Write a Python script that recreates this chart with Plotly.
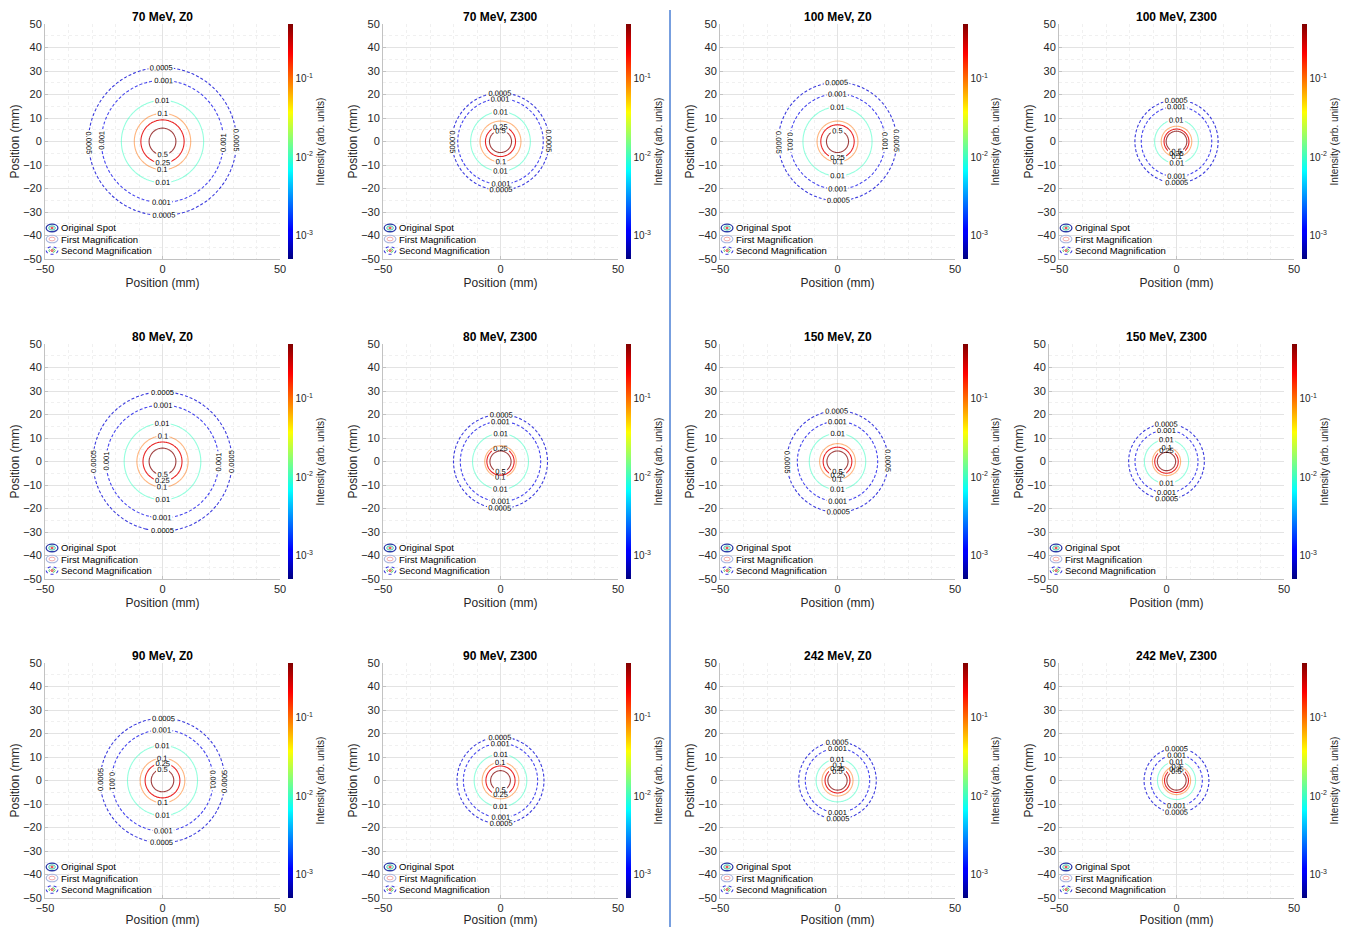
import numpy as np
import plotly.graph_objects as go

# ---------------- data ----------------
panel_titles = ["70 MeV, Z0", "70 MeV, Z300", "100 MeV, Z0", "100 MeV, Z300",
                "80 MeV, Z0", "80 MeV, Z300", "150 MeV, Z0", "150 MeV, Z300",
                "90 MeV, Z0", "90 MeV, Z300", "242 MeV, Z0", "242 MeV, Z300"]

# contour levels (arb. units), innermost first
levels = [0.5, 0.25, 0.1, 0.01, 0.001, 0.0005]

# radius (mm) of each contour level, same order as `levels`
radii_70_z0 = [5.7, 9.2, 12.0, 17.5, 26.0, 31.5]
radii_70_z300 = [4.7, 6.4, 8.7, 12.7, 18.2, 20.7]
radii_100_z0 = [4.7, 7.1, 8.7, 14.7, 20.3, 25.2]
radii_100_z300 = [4.4, 5.3, 6.5, 9.3, 15.0, 17.7]
radii_80_z0 = [5.7, 8.3, 10.9, 16.3, 24.0, 29.6]
radii_80_z300 = [4.5, 5.8, 6.7, 11.9, 17.1, 20.0]
radii_150_z0 = [4.5, 6.1, 7.6, 12.0, 17.1, 21.6]
radii_150_z300 = [3.9, 5.0, 6.0, 9.4, 13.4, 16.1]
radii_90_z0 = [4.8, 7.4, 9.5, 14.9, 21.6, 26.5]
radii_90_z300 = [4.2, 6.2, 7.8, 11.2, 15.8, 18.5]
radii_242_z0 = [4.1, 5.3, 6.6, 9.1, 13.7, 16.5]
radii_242_z300 = [4.1, 5.1, 6.0, 8.1, 11.0, 13.8]

panel_radii = [radii_70_z0, radii_70_z300, radii_100_z0, radii_100_z300,
               radii_80_z0, radii_80_z300, radii_150_z0, radii_150_z300,
               radii_90_z0, radii_90_z300, radii_242_z0, radii_242_z300]

legend_names = ["Original Spot", "First Magnification", "Second Magnification"]
cbar_tick_values = [1e-3, 1e-2, 1e-1]
cbar_tick_text = ["10<sup>-3</sup>", "10<sup>-2</sup>", "10<sup>-1</sup>"]
cbar_limits = [0.0005, 0.5]
axis_ticks_x = [-50, 0, 50]

# ---------------- styles ----------------
FONT = "Liberation Sans, Arial, Helvetica, sans-serif"
level_colors = ["rgba(128,0,0,0.75)", "rgba(230,0,0,0.85)", "rgba(255,110,0,0.5)",
                "rgba(60,255,195,0.55)", "rgba(35,35,235,0.85)", "rgba(25,25,215,0.85)"]
level_dash = ["solid", "solid", "solid", "solid", "3px,2px", "3px,2px"]

JET = [[0.0, "rgb(0,0,128)"], [0.11, "rgb(0,0,255)"], [0.125, "rgb(0,0,255)"],
       [0.375, "rgb(0,255,255)"], [0.625, "rgb(255,255,0)"],
       [0.875, "rgb(255,0,0)"], [1.0, "rgb(128,0,0)"]]

FIG_W, FIG_H = 1348, 927
PW = 235  # plot size px
col_left = [45, 383, 720, 1059]
row_top = [24, 344, 663]
special_left = {7: 1049}
N_LABEL_LEVELS = 120  # helper (empty) levels -> denser contour labels

fig = go.Figure()
layout_extra = {}
annotations = []
shapes = []

for i, (title, radii) in enumerate(zip(panel_titles, panel_radii)):
    k = i + 1
    row, col = divmod(i, 4)
    left = special_left.get(i, col_left[col])
    top = row_top[row]
    xd = [left / FIG_W, (left + PW) / FIG_W]
    yd = [1 - (top + PW) / FIG_H, 1 - top / FIG_H]
    xs = "x" if k == 1 else f"x{k}"
    ys = "y" if k == 1 else f"y{k}"
    xk = "xaxis" if k == 1 else f"xaxis{k}"
    yk = "yaxis" if k == 1 else f"yaxis{k}"

    for j, lev in enumerate(levels):
        r_lev = radii[j]
        ext = r_lev + 5.0
        g = np.linspace(-ext, ext, 71)
        gx, gy = np.meshgrid(g, g)
        rr = np.sqrt(gx ** 2 + gy ** 2)
        # locally linear field whose `lev` iso-line lies at the read radius
        zz = lev * (1.0 + np.clip(r_lev - rr, -3.0, 3.0))
        fig.add_trace(go.Contour(
            x=g, y=g, z=zz,
            xaxis=xs, yaxis=ys,
            autocontour=False,
            contours=dict(start=lev, end=lev + (N_LABEL_LEVELS - 1) * 5 * lev, size=5 * lev,
                          coloring="none", showlabels=True, labelformat=".4~g",
                          labelfont=dict(size=7.5, color="black", family=FONT)),
            line=dict(color=level_colors[j], width=1.1, dash=level_dash[j], smoothing=1.0),
            showscale=False, hoverinfo="skip", showlegend=False,
        ))

    # colorbar carrier (point lies outside the visible range)
    cb_left = left + PW + 8
    fig.add_trace(go.Scatter(
        x=[-1000], y=[-1000], xaxis=xs, yaxis=ys, mode="markers",
        marker=dict(size=1, color=[np.log10(cbar_limits[0])],
                    cmin=np.log10(cbar_limits[0]), cmax=np.log10(cbar_limits[1]),
                    colorscale=JET, showscale=True,
                    colorbar=dict(
                        x=cb_left / FIG_W, xanchor="left", xpad=0,
                        y=(yd[0] + yd[1]) / 2, yanchor="middle", ypad=0,
                        len=PW, lenmode="pixels", thickness=5,
                        outlinewidth=0,
                        tickvals=[np.log10(v) for v in cbar_tick_values],
                        ticktext=cbar_tick_text, ticks="",
                        tickfont=dict(size=10, color="#262626", family=FONT),
                        title=dict(text="Intensity (arb. units)", side="right",
                                   font=dict(size=10, color="#262626", family=FONT)),
                    )),
        hoverinfo="skip", showlegend=False,
    ))

    axis_common = dict(
        range=[-50, 50], showgrid=True, gridcolor="#e3e3e3", gridwidth=0.7,
        zeroline=False, showline=True, linecolor="#c2c2c2", linewidth=1,
        ticks="inside", ticklen=3, tickcolor="#c2c2c2",
        tickfont=dict(size=11, color="#262626", family=FONT),
        automargin=False, fixedrange=True,
    )
    layout_extra[xk] = dict(axis_common, domain=xd, anchor=ys, tickvals=axis_ticks_x,
                            minor=dict(dtick=10, showgrid=True, gridcolor="#f0f0f0",
                                       griddash="dot", gridwidth=0.7, ticks=""),
                            title=dict(text="Position (mm)", standoff=4,
                                       font=dict(size=12, color="#262626", family=FONT)))
    layout_extra[yk] = dict(axis_common, domain=yd, anchor=xs, dtick=10, tick0=0,
                            minor=dict(dtick=5, showgrid=True, gridcolor="#f0f0f0",
                                       griddash="dot", gridwidth=0.7, ticks=""),
                            title=dict(text="Position (mm)", standoff=0,
                                       font=dict(size=12, color="#262626", family=FONT)))

    annotations.append(dict(text=f"<b>{title}</b>", x=0.5, y=1.0, xref=f"{xs} domain",
                            yref=f"{ys} domain", xanchor="center", yanchor="bottom",
                            yshift=-2, showarrow=False,
                            font=dict(size=12, color="black", family=FONT)))

    # in-axes legend
    item_y = [0.132, 0.085, 0.036]
    xr, yr = f"{xs} domain", f"{ys} domain"
    for name, yy in zip(legend_names, item_y):
        annotations.append(dict(text=name, x=0.06, y=yy, xref=xr, yref=yr,
                                xanchor="left", yanchor="middle", showarrow=False,
                                font=dict(size=9.5, color="black", family=FONT)))

    def ell(cx, cy, w, h, color, width=1.0, dash="solid"):
        return dict(type="circle", xref=xr, yref=yr, x0=cx - w / 2, x1=cx + w / 2,
                    y0=cy - h / 2, y1=cy + h / 2, line=dict(color=color, width=width, dash=dash))

    cx = 0.03
    shapes += [ell(cx, item_y[0], 0.05, 0.032, "#2b3aa8", 1.3),
               ell(cx, item_y[0], 0.028, 0.018, "#3cc8a8", 1.0),
               ell(cx, item_y[0], 0.01, 0.007, "#e03030", 1.0)]
    shapes += [ell(cx, item_y[1], 0.05, 0.032, "#aab6e0", 1.1),
               ell(cx, item_y[1], 0.026, 0.016, "#f2a8a8", 1.0)]
    shapes += [ell(cx, item_y[2], 0.05, 0.032, "#3b3bdc", 1.1, "dot"),
               ell(cx, item_y[2], 0.026, 0.016, "#4cc860", 1.0, "dot"),
               ell(cx, item_y[2], 0.01, 0.007, "#e03030", 1.0)]

# vertical separator
shapes.append(dict(type="line", xref="paper", yref="paper", x0=670 / FIG_W, x1=670 / FIG_W,
                   y0=0, y1=1 - 10 / FIG_H, line=dict(color="#4a7fd4", width=1.5)))

fig.update_layout(
    width=FIG_W, height=FIG_H,
    margin=dict(l=0, r=0, t=0, b=0, pad=0, autoexpand=False),
    paper_bgcolor="white", plot_bgcolor="white",
    font=dict(family=FONT, color="#262626"),
    showlegend=False,
    annotations=annotations, shapes=shapes,
    **layout_extra,
)

fig.write_html("out.html", post_script="document.body.style.margin='0';",
               config={"displayModeBar": False})
